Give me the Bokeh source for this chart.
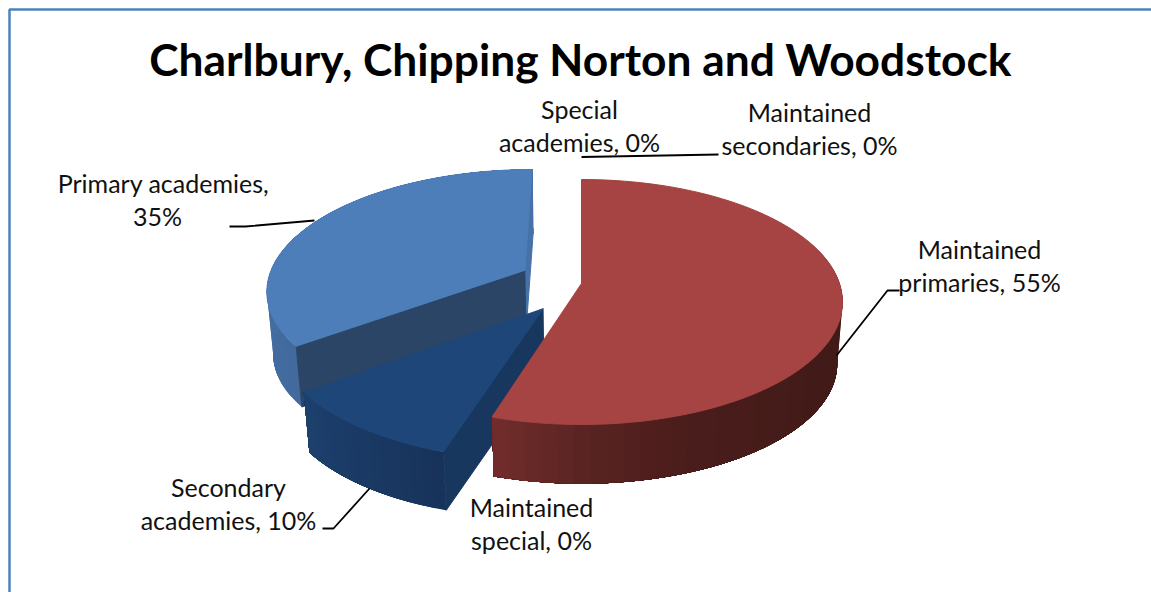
import math
import numpy as np
from bokeh.plotting import figure
from bokeh.models import Range1d
from bokeh.core.properties import value
from bokeh.embed import file_html
from bokeh.resources import INLINE

# ---- data
categories = ["Maintained primaries", "Maintained special", "Secondary academies",
              "Primary academies", "Special academies", "Maintained secondaries"]
shares = [54.8, 0.0, 10.0, 35.2, 0.0, 0.0]
explode = [0.0, 0.0, 0.25, 0.25, 0.25, 0.0]
title = "Charlbury, Chipping Norton and Woodstock"

def lab(i):
    return f"{round(shares[i])}%"
labels = [
    ("Special", f"academies, {lab(4)}", 579, 579, 108, 141),
    ("Maintained", f"secondaries, {lab(5)}", 809, 809, 111, 144),
    ("Maintained", f"primaries, {lab(0)}", 979, 979, 248, 281),
    ("Primary academies,", lab(3), 163, 157, 182, 215),
    ("Secondary", f"academies, {lab(2)}", 228, 228, 486, 519),
    ("Maintained", f"special, {lab(1)}", 531, 531, 506, 539),
]
leaders = [
    ([229, 245, 314], [226, 226, 220]),
    ([322, 333, 369], [528, 528, 488]),
    ([836, 887, 899], [355, 290, 290]),
    ([581, 718], [156.5, 154]),
]

# ---- projection of the tilted pie
CX, CY = 581, 283
A, B, K = 258.0, 119.7, 0.151
DEPTH, SHRINK = 62, 0.98
W, H = 1151, 592

def proj(t_deg, e, mid_deg, radius=1.0, low=False):
    t, m = math.radians(t_deg), math.radians(mid_deg)
    U = e * math.sin(m) + radius * math.sin(t)
    V = e * math.cos(m) + radius * math.cos(t)
    w = 1 + K * V
    s = SHRINK if low else 1.0
    return CX + s * A * U / w, CY + (DEPTH if low else 0) - s * B * V / w

def ramp(t, stops):
    ts = [a for a, _ in stops]
    return "#%02x%02x%02x" % tuple(
        int(round(np.interp(t, ts, [c[i] for _, c in stops]))) for i in range(3))

p = figure(width=W, height=H, output_backend="svg", toolbar_location=None,
           x_range=Range1d(0, W), y_range=Range1d(H, 0),
           min_border=0, outline_line_color=None, background_fill_color="white",
           border_fill_color="white")
p.axis.visible = False
p.grid.visible = False

def poly(xs, ys, color):
    p.patch(xs, ys, fill_color=color, line_color=color, line_width=1)

def arc(t0, t1, e, mid, low=False, n=90):
    pts = [proj(t, e, mid, low=low) for t in np.linspace(t0, t1, n)]
    return [a for a, _ in pts], [b for _, b in pts]

def wall(t, e, mid, color):
    ax, ay = proj(0, e, mid, radius=0)
    bx, by = proj(0, e, mid, radius=0, low=True)
    ox, oy = proj(t, e, mid)
    qx, qy = proj(t, e, mid, low=True)
    poly([ax, ox, qx, bx], [ay, oy, qy, by], color)

def side(t0, t1, e, mid, stops, n=48):
    # every strip runs to the far end of the arc, the next one paints over it,
    # so no seams appear between neighbouring colours
    ed = np.linspace(t0, t1, n + 1)
    for a, b in zip(ed[:-1], ed[1:]):
        xs, ys = arc(a, t1, e, mid, n=max(3, int((t1 - a) / 2) + 2))
        xl, yl = arc(a, t1, e, mid, low=True, n=len(xs))
        p.patch(xs + xl[::-1], ys + yl[::-1], fill_color=ramp((a + b) / 2, stops),
                line_color=None)

def top(t0, t1, e, mid, color):
    ax, ay = proj(0, e, mid, radius=0)
    xs, ys = arc(t0, t1, e, mid)
    poly([ax] + xs, [ay] + ys, color)

spans, acc = [], 0.0
for v in shares:
    spans.append((acc * 3.6, (acc + v) * 3.6))
    acc += v

i = categories.index("Primary academies")
t0, t1 = spans[i]; mid = (t0 + t1) / 2; e = explode[i]
side(t0, t1, e, mid, [(t0, (66, 106, 158)), (t1, (72, 116, 172))], n=24)
wall(t1, e, mid, "#4672A8")
wall(t0, e, mid, "#2B4566")
top(t0, t1, e, mid, "#4D7EBA")

i = categories.index("Secondary academies")
t0, t1 = spans[i]; mid = (t0 + t1) / 2; e = explode[i]
side(t0, t1, e, mid, [(t0, (23, 51, 90)), (t1, (29, 64, 110))], n=16)
wall(t0, e, mid, "#17375E")
top(t0, t1, e, mid, "#1E4679")

i = categories.index("Maintained primaries")
t0, t1 = spans[i]; mid = (t0 + t1) / 2; e = explode[i]
side(70, t1, e, mid, [(70, (66, 27, 24)), (125, (66, 27, 24)), (160, (74, 29, 27)),
                      (180, (90, 36, 34)), (t1, (114, 45, 43))], n=40)
top(t0, t1, e, mid, "#A54442")

p.line([9, 9, W], [H, 9, 9], line_color="#4F81BD", line_width=2.5)

for lx, ly in leaders:
    p.line(lx, ly, line_color="black", line_width=1.8)

FONT = value("Lato")
for l1, l2, x1, x2, y1, y2 in labels:
    p.text([x1, x2], [y1, y2], text=[l1, l2], text_font=FONT, text_font_size="25px",
           text_color="#111111", text_align="center", text_baseline="middle")
p.text([580], [58], text=[title], text_font=FONT, text_font_style="bold",
       text_font_size="44.3px", text_color="black", text_align="center", text_baseline="middle")

open("out.html", "w").write(file_html(p, INLINE))
